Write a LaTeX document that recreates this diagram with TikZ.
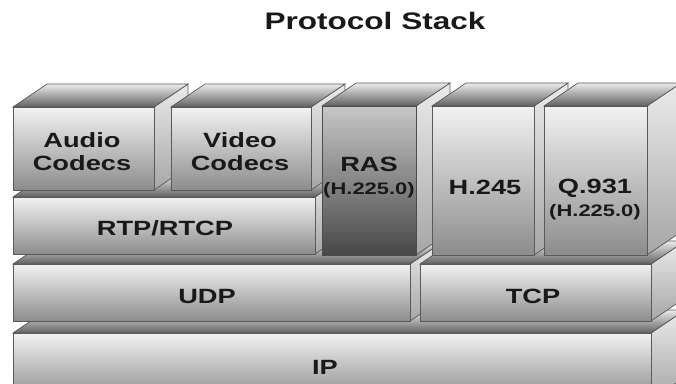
\documentclass[tikz,border=0pt]{standalone}
\usepackage{fontspec}
\usetikzlibrary{positioning}

\newfontfamily\stackfont[FakeStretch=1.32]{Liberation Sans}

% depth of every block (px)
\def\dpx{34}
\def\dpy{23}

% \stackblock{x1}{y1}{x2}{y2}{front style}: front, top and right side of one block
\newcommand{\stackblock}[5]{%
  \shade[sideface] (#3,#2) -- ++(\dpx,-\dpy) -- ([shift={(\dpx,-\dpy)}]#3,#4) -- (#3,#4) -- cycle;
  \shade[topface] (#1,#2) -- ++(\dpx,-\dpy) -- ([shift={(\dpx,-\dpy)}]#3,#2) -- (#3,#2) -- cycle;
  \shade[#5] (#1,#2) rectangle (#3,#4);
}

\begin{document}
\begin{tikzpicture}[
    x=0.03cm, y=-0.03cm,
    % Styles
    front/.style={top color=black!5, bottom color=black!45, draw=black!65, line width=0.6pt},
    darkfront/.style={top color=black!22, bottom color=black!72, draw=black!70, line width=0.6pt},
    topface/.style={top color=black!8, bottom color=black!62, draw=black!65, line width=0.6pt},
    sideface/.style={top color=black!8, bottom color=black!35, draw=black!65, line width=0.6pt},
    label/.style={font=\stackfont\bfseries\fontsize{17.6}{19.6}\selectfont, text=black!90, align=center, inner sep=0pt}
  ]
  \useasboundingbox (0,0) rectangle (676,383);

  % --- title ---
  \node (title) [label, font=\stackfont\bfseries\fontsize{20.4}{24}\selectfont] at (375,21) {Protocol Stack};

  % --- bottom rows first, upper blocks sit on them ---
  \stackblock{13}{333}{651}{400}{front}      % IP
  \stackblock{13}{264}{410}{321}{front}      % UDP
  \stackblock{420}{264}{651}{321}{front}     % TCP
  \stackblock{13}{197}{315}{254}{front}      % RTP/RTCP
  \stackblock{13}{107}{154}{190}{front}      % Audio
  \stackblock{171}{107}{311}{190}{front}     % Video
  \stackblock{322}{106}{416}{255}{darkfront} % RAS
  \stackblock{432}{106}{534}{255}{front}     % H.245
  \stackblock{544}{106}{647}{255}{front}     % Q.931

  % --- labels ---
  \node (ip) [label] at (325,367) {IP};
  \node (udp) [label] at (207,296) {UDP};
  \node (tcp) [label] at (533,296) {TCP};
  \node (rtp) [label] at (165,228) {RTP/RTCP};
  \node (audio) [label] at (82,152) {Audio\\Codecs};
  \node (video) [label] at (240,152) {Video\\Codecs};
  \node (ras) [label] at (369,178) {RAS\\{\fontsize{14.2}{19.6}\selectfont (H.225.0)}};
  \node (h245) [label] at (485,187) {H.245};
  \node (q931) [label] at (595,200) {Q.931\\{\fontsize{14.2}{19.6}\selectfont (H.225.0)}};

\end{tikzpicture}
\end{document}
